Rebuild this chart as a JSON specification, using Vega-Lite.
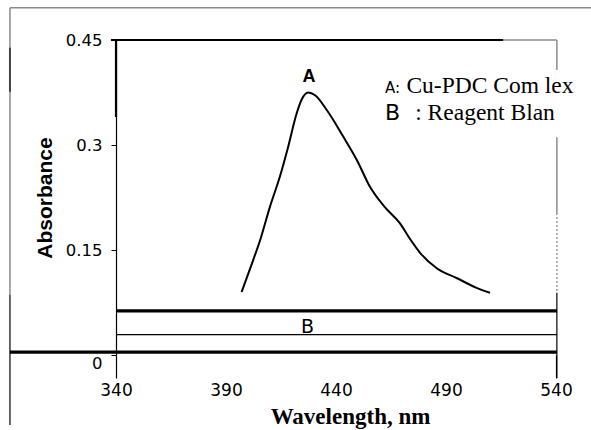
{
  "$schema": "https://vega.github.io/schema/vega-lite/v6.json",
  "width": 440,
  "height": 315,
  "autosize": "none",
  "padding": {"left": 116, "top": 40, "right": 35, "bottom": 75},
  "background": "white",
  "config": {"view": {"stroke": null}},
  "datasets": {
    "curve": [
      {"wl": 397.1, "abs": 0.090},
      {"wl": 402.4, "abs": 0.136},
      {"wl": 405.5, "abs": 0.164},
      {"wl": 410.0, "abs": 0.212},
      {"wl": 414.5, "abs": 0.255},
      {"wl": 418.3, "abs": 0.298},
      {"wl": 422.1, "abs": 0.345},
      {"wl": 424.4, "abs": 0.365},
      {"wl": 427.4, "abs": 0.375},
      {"wl": 430.5, "abs": 0.371},
      {"wl": 435.8, "abs": 0.350},
      {"wl": 443.3, "abs": 0.312},
      {"wl": 449.4, "abs": 0.279},
      {"wl": 455.5, "abs": 0.240},
      {"wl": 462.0, "abs": 0.212},
      {"wl": 469.1, "abs": 0.188},
      {"wl": 473.6, "abs": 0.166},
      {"wl": 478.2, "abs": 0.146},
      {"wl": 485.8, "abs": 0.124},
      {"wl": 494.8, "abs": 0.110},
      {"wl": 503.9, "abs": 0.096},
      {"wl": 510.0, "abs": 0.089}
    ]
  },
  "layer": [
    {
      "data": {"values": [
        {"wl": 291.8, "wl2": 556, "abs": 0.496, "abs2": 0.496},
        {"wl": 291.8, "wl2": 291.8, "abs": 0.496, "abs2": 0.086},
        {"wl": 540.4, "wl2": 540.4, "abs": 0.45, "abs2": 0.407},
        {"wl": 540.4, "wl2": 540.4, "abs": 0.311, "abs2": 0.203},
        {"wl": 516, "wl2": 540.4, "abs": 0.45, "abs2": 0.45}
      ]},
      "mark": {"type": "rule", "color": "#8a8a8a", "strokeWidth": 1.5},
      "encoding": {
        "x": {"field": "wl", "type": "quantitative", "scale": {"domain": [340, 540], "nice": false},
          "axis": {"values": [340, 390, 440, 490, 540], "domain": false, "grid": false, "tickSize": 23, "tickColor": "black", "tickWidth": 1.2,
            "tickOpacity": {"condition": {"test": "datum.value == 340 || datum.value == 540", "value": 1}, "value": 0},
            "labelPadding": 4, "labelFont": "DejaVu Sans", "labelFontSize": 17, "labelColor": "black", "labelFlush": false,
            "title": "Wavelength, nm", "titleFont": "Liberation Serif", "titleFontSize": 23, "titleFontWeight": "bold", "titleColor": "black",
            "titleX": 234, "titleY": 68, "titleBaseline": "alphabetic", "titleAnchor": "middle"}},
        "x2": {"field": "wl2"},
        "y": {"field": "abs", "type": "quantitative", "scale": {"domain": [0, 0.45], "nice": false},
          "axis": {"values": [0, 0.15, 0.3, 0.45], "format": ".2~f", "grid": false, "domain": true, "domainColor": "black", "domainWidth": 1.2,
            "tickSize": 5, "tickColor": "black", "labelPadding": 9, "labelFont": "DejaVu Sans", "labelFontSize": 16.5, "labelColor": "black",
            "labelFlush": false,
            "labelBaseline": {"condition": {"test": "datum.value == 0", "value": "top"}, "value": "middle"},
            "title": "Absorbance", "titleFont": "Liberation Sans", "titleFontSize": 21, "titleFontWeight": "bold", "titleColor": "black",
            "titleX": -71, "titleY": 157.5, "titleBaseline": "middle", "titleAnchor": "middle"}},
        "y2": {"field": "abs2"}
      }
    },
    {
      "data": {"values": [
        {"wl": 540.4, "wl2": 540.4, "abs": 0.203, "abs2": 0.089}
      ]},
      "mark": {"type": "rule", "color": "#999999", "strokeWidth": 1.5, "strokeDash": [2, 2]},
      "encoding": {
        "x": {"field": "wl", "type": "quantitative"}, "x2": {"field": "wl2"},
        "y": {"field": "abs", "type": "quantitative"}, "y2": {"field": "abs2"}
      }
    },
    {
      "data": {"values": [
        {"wl": 540.4, "wl2": 540.4, "abs": 0.089, "abs2": -0.033},
        {"wl": 291.8, "wl2": 291.8, "abs": 0.086, "abs2": -0.1},
        {"wl": 340, "wl2": 540.4, "abs": 0.029, "abs2": 0.029}
      ]},
      "mark": {"type": "rule", "color": "black", "strokeWidth": 1.2},
      "encoding": {
        "x": {"field": "wl", "type": "quantitative"}, "x2": {"field": "wl2"},
        "y": {"field": "abs", "type": "quantitative"}, "y2": {"field": "abs2"}
      }
    },
    {
      "data": {"values": [
        {"wl": 340, "wl2": 540.4, "abs": 0.063, "abs2": 0.063},
        {"wl": 291.8, "wl2": 540.4, "abs": 0.004, "abs2": 0.004}
      ]},
      "mark": {"type": "rule", "color": "black", "strokeWidth": 3.2},
      "encoding": {
        "x": {"field": "wl", "type": "quantitative"}, "x2": {"field": "wl2"},
        "y": {"field": "abs", "type": "quantitative"}, "y2": {"field": "abs2"}
      }
    },
    {
      "data": {"values": [
        {"wl": 337.7, "wl2": 516, "abs": 0.45, "abs2": 0.45},
        {"wl": 340, "wl2": 340, "abs": 0.45, "abs2": 0.34}
      ]},
      "mark": {"type": "rule", "color": "black", "strokeWidth": 2.2},
      "encoding": {
        "x": {"field": "wl", "type": "quantitative"}, "x2": {"field": "wl2"},
        "y": {"field": "abs", "type": "quantitative"}, "y2": {"field": "abs2"}
      }
    },
    {
      "data": {"values": [
        {"wl": 291.8, "wl2": 291.8, "abs": 0.439, "abs2": 0.376}
      ]},
      "mark": {"type": "rule", "color": "#444444", "strokeWidth": 2},
      "encoding": {
        "x": {"field": "wl", "type": "quantitative"}, "x2": {"field": "wl2"},
        "y": {"field": "abs", "type": "quantitative"}, "y2": {"field": "abs2"}
      }
    },
    {
      "data": {"name": "curve"},
      "mark": {"type": "line", "color": "black", "strokeWidth": 2, "interpolate": "monotone"},
      "encoding": {
        "x": {"field": "wl", "type": "quantitative"},
        "y": {"field": "abs", "type": "quantitative"}
      }
    },
    {
      "data": {"values": [{"wl": 427.7, "abs": 0.397, "label": "A"}]},
      "mark": {"type": "text", "font": "Liberation Sans", "fontWeight": "bold", "fontSize": 18, "color": "black", "align": "center", "baseline": "middle"},
      "encoding": {
        "x": {"field": "wl", "type": "quantitative"},
        "y": {"field": "abs", "type": "quantitative"},
        "text": {"field": "label"}
      }
    },
    {
      "data": {"values": [{"wl": 427.0, "abs": 0.040, "label": "B"}]},
      "mark": {"type": "text", "font": "DejaVu Sans", "fontSize": 19, "color": "black", "align": "center", "baseline": "middle"},
      "encoding": {
        "x": {"field": "wl", "type": "quantitative"},
        "y": {"field": "abs", "type": "quantitative"},
        "text": {"field": "label"}
      }
    },
    {
      "data": {"values": [{"wl": 462.3, "abs": 0.375, "label": "A:"}]},
      "mark": {"type": "text", "font": "DejaVu Sans", "fontSize": 15, "color": "black", "align": "left", "baseline": "alphabetic"},
      "encoding": {
        "x": {"field": "wl", "type": "quantitative"},
        "y": {"field": "abs", "type": "quantitative"},
        "text": {"field": "label"}
      }
    },
    {
      "data": {"values": [{"wl": 462.3, "abs": 0.336, "label": "B"}]},
      "mark": {"type": "text", "font": "DejaVu Sans", "fontSize": 22, "color": "black", "align": "left", "baseline": "alphabetic"},
      "encoding": {
        "x": {"field": "wl", "type": "quantitative"},
        "y": {"field": "abs", "type": "quantitative"},
        "text": {"field": "label"}
      }
    },
    {
      "data": {"values": [
        {"wl": 472.0, "abs": 0.375, "label": "Cu-PDC Com lex"},
        {"wl": 476.0, "abs": 0.336, "label": ": Reagent Blan"}
      ]},
      "mark": {"type": "text", "font": "Liberation Serif", "fontSize": 23.5, "color": "black", "align": "left", "baseline": "alphabetic"},
      "encoding": {
        "x": {"field": "wl", "type": "quantitative"},
        "y": {"field": "abs", "type": "quantitative"},
        "text": {"field": "label"}
      }
    }
  ]
}
